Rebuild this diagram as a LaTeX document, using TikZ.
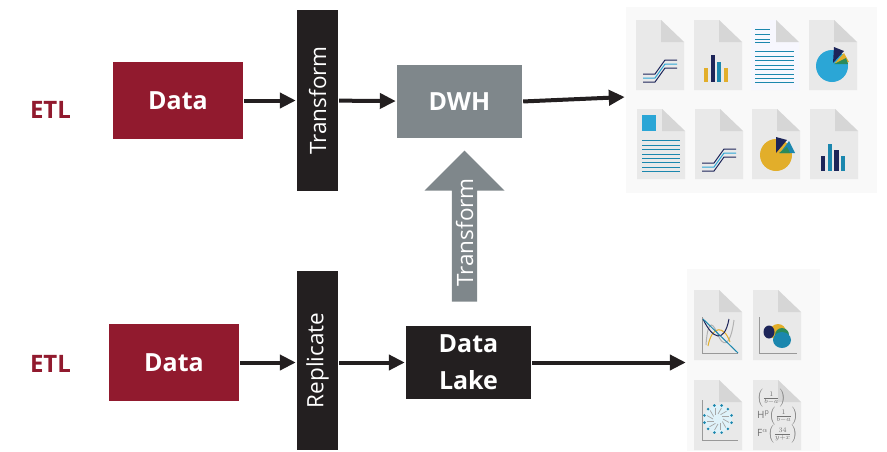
\documentclass[tikz,border=0pt]{standalone}
\usepackage{amsmath}
\usepackage{xcolor}
\usepackage{fontspec}
\setmainfont{Open Sans}
\usetikzlibrary{shapes.arrows,arrows.meta}
\definecolor{etlred}{HTML}{911A2E}
\definecolor{dwhgray}{HTML}{7F878B}
\definecolor{lakeblack}{HTML}{231F20}
\definecolor{pagegray}{HTML}{E9E9E9}
\definecolor{foldgray}{HTML}{D6D6D6}
\definecolor{navy}{HTML}{1D2559}
\definecolor{teal2}{HTML}{1B87AE}
\definecolor{sky}{HTML}{2BA6D6}
\definecolor{gold}{HTML}{E2AE2A}
\definecolor{leaf}{HTML}{2B8A5A}
\tikzstyle{box}=[inner sep=0pt,align=center,text=white,font=\fontsize{25}{37}\selectfont\bfseries,minimum width=130pt,minimum height=77pt]
\tikzstyle{databox}=[box,fill=etlred]
\tikzstyle{bar}=[inner sep=0pt,rotate=90,fill=lakeblack,text=white,font=\fontsize{22.5}{26}\selectfont,minimum height=41pt]
\tikzstyle{etl}=[inner sep=0pt,text=etlred,font=\fontsize{24}{28}\selectfont\bfseries]
\tikzstyle{flow}=[line width=4pt,lakeblack,-{Triangle[length=16pt,width=15pt]},shorten <=1pt,shorten >=1pt]
\tikzstyle{backdrop}=[inner sep=0pt,fill=black!2.5]
\def\docpage#1#2#3{\fill[#3] (0,0) -- (25,0) -- (48,22) -- (48,70) -- (0,70) -- cycle; \fill[foldgray] (25,0) -- (48,22) -- (25,22) -- cycle; \begin{scope}[shift={(0,0)}] #2 \end{scope}}
\def\doc#1#2#3{\begin{scope}[shift={(#1,#2)}] \docpage{}{#3}{pagegray} \end{scope}}
\def\stairs#1#2#3{\draw[line width=1pt,#3] (7,#2) -- ++(#1,0) -- ++(10,-14) -- ++(12,0);}
\def\bars#1#2#3#4{\fill[#1] (11,47) rectangle (15,62); \fill[#2] (18,35) rectangle (22,62); \fill[#3] (24,41) rectangle (29,62); \fill[#4] (31,47) rectangle (35,62);}
\def\wedge#1#2#3#4{\fill[#1] (#2,#3) -- ++(#4) arc[radius=16,start angle=#4,delta angle=0] -- cycle;}
\begin{document}
\begin{tikzpicture}[x=1pt,y=-1pt]
    \useasboundingbox (0,0) rectangle (887,451);
    \node[backdrop,minimum width=251pt,minimum height=186pt] (reports) at (751.5,100) {};
    \node[backdrop,minimum width=133pt,minimum height=182pt] (models) at (753.5,360) {};
    \node[etl] (etltop) at (50.5,110) {ETL};
    \node[etl] (etlbot) at (50.5,364) {ETL};
    \node[databox] (datatop) at (178,100.5) {Data};
    \node[databox] (databot) at (174,362.5) {Data};
    \node[bar,minimum width=181pt] (transform) at (317.5,100.5) {Transform};
    \node[bar,minimum width=179pt] (replicate) at (317.5,360.5) {Replicate};
    \node[box,fill=dwhgray,minimum width=125pt,minimum height=73pt] (dwh) at (459.5,101.5) {DWH};
    \node[box,fill=lakeblack,minimum width=125pt,minimum height=73pt] (lake) at (468.5,362.5) {Data\\Lake};
    \node[single arrow,fill=dwhgray,text=white,rotate=90,inner sep=0pt,minimum width=80pt,minimum height=151pt,
      single arrow head extend=19.5pt,single arrow tip angle=90,font=\fontsize{22.5}{26}\selectfont] (lift) at (464.5,232.5) {Transform};
    \draw[flow] (datatop) -- (transform);
    \draw[flow] (transform) -- (dwh);
    \draw[flow] (dwh.east) -- ([yshift=3pt]reports.west);
    \draw[flow] (databot.east) -- (databot.east -| replicate.north);
    \draw[flow] (lake.west -| replicate.south) -- (lake.west);
    \draw[flow] (lake.east) -- (lake.east -| models.west);
    \doc{636}{20}{\foreach \s/\c in {62/navy,58/sky,54/navy}{\stairs{12}{\s}{\c}}}
    \doc{694}{20}{\fill[gold] (10,48) rectangle (14,62); \fill[navy] (17,35) rectangle (21,62); \fill[teal2] (23,42) rectangle (27,62); \fill[gold] (30,48) rectangle (34,62);}
    \begin{scope}[shift={(751,20)}]
      \docpage{}{\foreach \y in {9,14,19,22}{\fill[teal2] (4,\y) rectangle (19,\y+1);}
      \foreach \y in {31,36,40,45,49,54,58,62}{\fill[teal2] (4,\y) rectangle (43,\y+1);}}{black!6!blue!3!white}
    \end{scope}
    \doc{809}{20}{\fill[sky] (23,46) circle (16);
      \fill[navy] (24,43) -- (25,27) -- (35,31) -- cycle; \fill[gold] (26,43) -- (35,33) -- (40,42) -- cycle; \fill[leaf] (25,44) -- (37,38) -- (39,44) -- cycle;}
    \doc{637}{109}{\fill[sky] (5,6) rectangle (19,22);
      \foreach \y in {31,36,40,45,49,53,58,62}{\fill[teal2] (5,\y) rectangle (43,\y+1);}}
    \doc{695}{109}{\foreach \s/\c in {62/navy,58/sky,54/navy}{\stairs{12}{\s}{\c}}}
    \doc{752}{109}{\fill[gold] (24,46) circle (16);
      \fill[navy] (24,44) -- (24,28) -- (35,31) -- cycle; \fill[teal2] (28,44) -- (37,32) -- (43,44) -- cycle; \fill[leaf] (27,44) -- (35,38) -- (38,44) -- cycle;}
    \doc{810}{109}{\bars{navy}{teal2}{navy}{teal2}}
    \doc{694}{290}{\draw[black!40] (8,27) -- (8,63) -- (44,63);
      \draw[black!30,line width=1pt] (12,55) .. controls (14,25) and (20,35) .. (24,45) .. controls (28,55) and (36,60) .. (40,30);
      \draw[gold,line width=1pt] (14,56) .. controls (18,35) and (30,35) .. (36,52);
      \draw[navy,line width=1pt] (9,29) .. controls (18,48) and (30,55) .. (35,29);
      \draw[teal2,line width=1pt] (9,29) -- (44,63);}
    \doc{753}{290}{\draw[black!40] (6,27) -- (6,63) -- (44,63);
      \fill[gold] (25,42) circle (8); \fill[leaf] (29,45) circle (7); \fill[teal2] (29,50) ellipse (9 and 8); \fill[navy] (16,42) ellipse (5.5 and 6.5);}
    \doc{694}{380}{\draw[black!40] (8,20) -- (8,60) -- (44,60);
      \fill[sky!15] (24,39) circle (14);
      \foreach \a in {0,30,...,330}{\draw[black!35,line width=.7pt] (24,39) ++(\a:5) -- ++(\a+30:7); \fill[teal2] (24,39) ++(\a+15:14) circle (1.4);}}
    \doc{753}{380}{\node[inner sep=0pt,anchor=west,text=black!55,font=\fontsize{10}{10}\selectfont] (fa) at (4,18) {$\left(\frac{1}{b-a}\right)$};
      \node[inner sep=0pt,anchor=west,text=black!55,font=\fontsize{10}{10}\selectfont] (fb) at (4,36) {$\mathrm{H}^{\mathrm{p}}\!\left(\frac{1}{b-a}\right)$};
      \node[inner sep=0pt,anchor=west,text=black!55,font=\fontsize{10}{10}\selectfont] (fc) at (4,54) {$\mathrm{F}^{\alpha}\!\left(\frac{34}{y+x}\right)$};}
\end{tikzpicture}
\end{document}
